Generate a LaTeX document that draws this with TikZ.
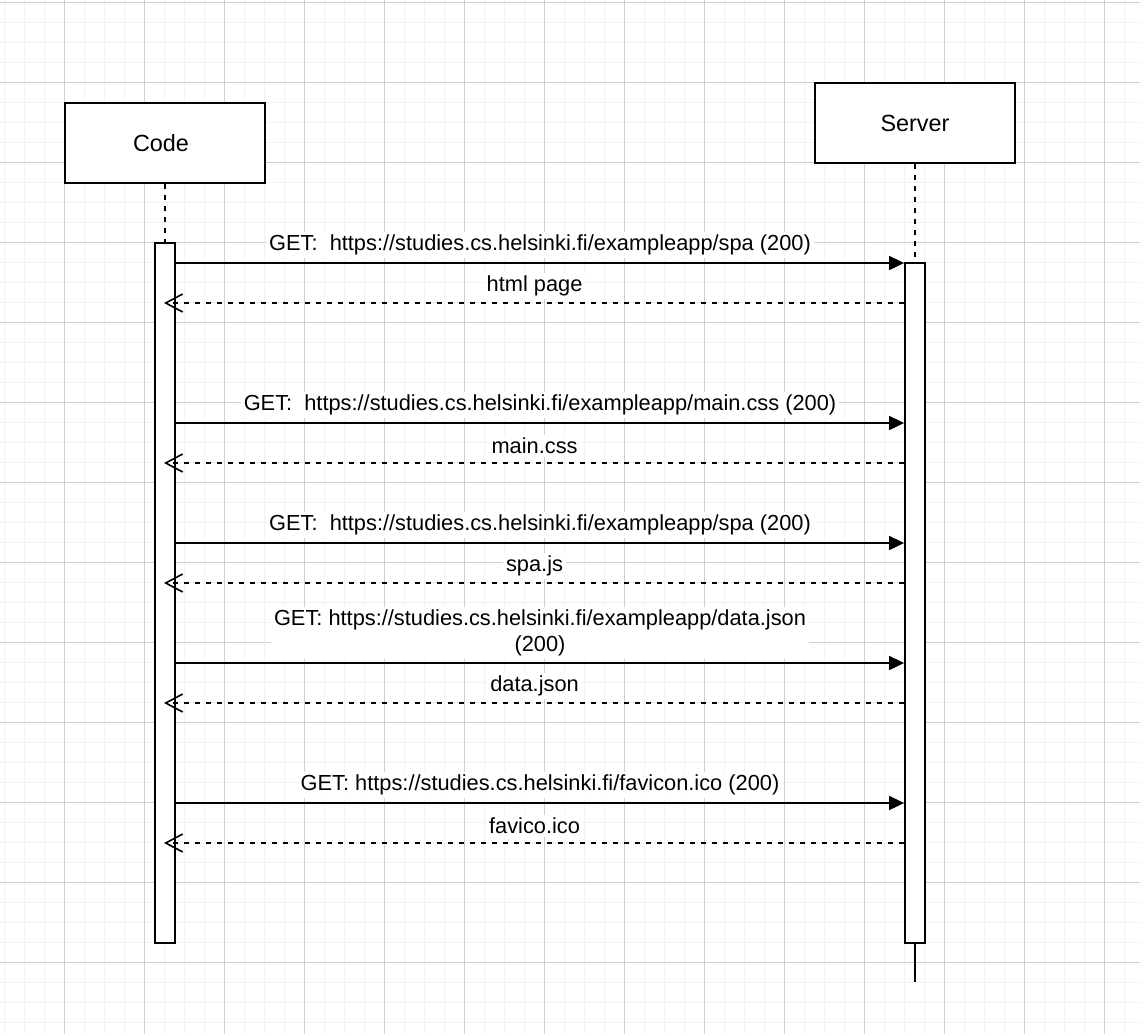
\documentclass[tikz,border=0pt]{standalone}
\usepackage{fontspec}
\setmainfont{Liberation Sans}
\usepackage{tikz}
\usetikzlibrary{shapes,arrows.meta,positioning,calc}
\definecolor{gridminor}{RGB}{242,242,242}
\definecolor{gridmajor}{RGB}{208,208,208}

\begin{document}
\begin{tikzpicture}[x=1pt,y=-1pt,
    actor/.style={draw, line width=1.8pt, fill=white, minimum width=200pt, minimum height=80pt, font=\fontsize{23.4}{28}\selectfont},
    bar/.style={draw, line width=1.8pt, fill=white, minimum width=20pt, inner sep=0pt},
    lifeline/.style={line width=1.6pt, dash pattern=on 5.5pt off 5.5pt},
    msg/.style={line width=1.8pt, -{Triangle[length=15pt,width=14pt]}},
    reply/.style={line width=1.6pt, dash pattern=on 5.5pt off 5.5pt, -{Straight Barb[length=17pt,width=18pt,line width=1.6pt,sep=0pt]}},
    lbl/.style={fill=white, inner sep=3pt, font=\fontsize{21.8}{26}\selectfont, align=center}]
  \useasboundingbox (0,0) rectangle (1140,1034);
  \fill[white] (0,0) rectangle (1140,1034);
  % grid
  \foreach \x in {4,24,...,1140} \draw[gridminor, line width=1pt] (\x,0) -- (\x,1034);
  \foreach \y in {2,22,...,1034} \draw[gridminor, line width=1pt] (0,\y) -- (1140,\y);
  \foreach \x in {64,144,...,1140} \draw[gridmajor, line width=1pt] (\x,0) -- (\x,1034);
  \foreach \y in {2,82,...,1034} \draw[gridmajor, line width=1pt] (0,\y) -- (1140,\y);

  % participants
  \node[actor] (code) at (165,143) {\hspace*{-8pt}Code};
  \node[actor] (server) at (915,123) {Server};
  \node[bar, minimum height=700pt] (codebar) at (165,593) {};
  \node[bar, minimum height=680pt] (srvbar) at (915,603) {};
  \coordinate (srvend) at (915,982);
  \draw[lifeline] (code.south) -- (codebar.north);
  \draw[lifeline] (server.south) -- (srvbar.north);
  \draw[line width=1.6pt] (srvbar.south) -- (srvend);

  % message rows
  \coordinate (r1) at (0,263);
  \coordinate (r2) at (0,303);
  \coordinate (r3) at (0,423);
  \coordinate (r4) at (0,463);
  \coordinate (r5) at (0,543);
  \coordinate (r6) at (0,583);
  \coordinate (r7) at (0,663);
  \coordinate (r8) at (0,703);
  \coordinate (r9) at (0,803);
  \coordinate (r10) at (0,843);

  \draw[msg] (codebar.east |- r1) -- node[lbl, yshift=18pt] {GET:\ \ https://studies.cs.helsinki.fi/exampleapp/spa (200)} (srvbar.west |- r1);
  \draw[reply, shorten >=-1pt] (srvbar.west |- r2) -- node[lbl, yshift=17pt] {html page} (codebar.center |- r2);

  \draw[msg] (codebar.east |- r3) -- node[lbl, yshift=18pt] {GET:\ \ https://studies.cs.helsinki.fi/exampleapp/main.css (200)} (srvbar.west |- r3);
  \draw[reply, shorten >=-1pt] (srvbar.west |- r4) -- node[lbl, yshift=17pt] {main.css} (codebar.center |- r4);

  \draw[msg] (codebar.east |- r5) -- node[lbl, yshift=18pt] {GET:\ \ https://studies.cs.helsinki.fi/exampleapp/spa (200)} (srvbar.west |- r5);
  \draw[reply, shorten >=-1pt] (srvbar.west |- r6) -- node[lbl, yshift=17pt] {spa.js} (codebar.center |- r6);

  \draw[msg] (codebar.east |- r7) -- node[lbl, yshift=30pt] {GET: https://studies.cs.helsinki.fi/exampleapp/data.json\\(200)} (srvbar.west |- r7);
  \draw[reply, shorten >=-1pt] (srvbar.west |- r8) -- node[lbl, yshift=17pt] {data.json} (codebar.center |- r8);

  \draw[msg] (codebar.east |- r9) -- node[lbl, yshift=18pt] {GET: https://studies.cs.helsinki.fi/favicon.ico (200)} (srvbar.west |- r9);
  \draw[reply, shorten >=-1pt] (srvbar.west |- r10) -- node[lbl, yshift=17pt] {favico.ico} (codebar.center |- r10);
\end{tikzpicture}
\end{document}
